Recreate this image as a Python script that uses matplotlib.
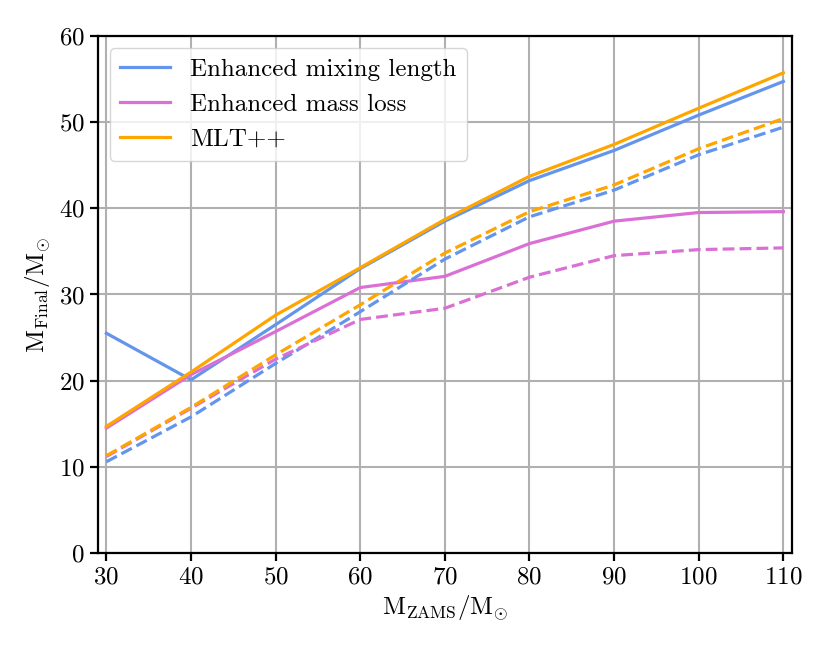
import matplotlib
matplotlib.use('Agg')
import matplotlib.pyplot as plt

plt.rcParams['font.family'] = 'serif'
plt.rcParams['font.serif'] = ['cmr10']
plt.rcParams['mathtext.fontset'] = 'cm'
plt.rcParams['axes.formatter.use_mathtext'] = True

# initial masses (M_sun)
m_zams = [30, 40, 50, 60, 70, 80, 90, 100, 110]

# solid lines
mix_solid = [25.5, 20.1, 26.5, 33.0, 38.5, 43.2, 46.7, 50.8, 54.7]
loss_solid = [14.5, 20.7, 25.7, 30.8, 32.1, 35.9, 38.5, 39.5, 39.6]
mlt_solid = [14.7, 21.0, 27.6, 33.1, 38.7, 43.7, 47.4, 51.6, 55.7]

# dashed lines
mix_dash = [10.6, 15.8, 22.0, 28.0, 34.1, 39.0, 42.1, 46.2, 49.4]
loss_dash = [11.2, 16.8, 22.5, 27.1, 28.4, 32.0, 34.5, 35.2, 35.4]
mlt_dash = [11.3, 16.9, 23.0, 28.8, 34.8, 39.6, 42.7, 46.9, 50.4]

C_MIX = 'cornflowerblue'
C_LOSS = 'orchid'
C_MLT = 'orange'
LW = 2.3

fig = plt.figure(figsize=(8.3, 6.5), dpi=100)
ax = fig.add_axes([0.118, 0.149, 0.836, 0.796])

ax.plot(m_zams, mix_solid, color=C_MIX, lw=LW, label='Enhanced mixing length')
ax.plot(m_zams, loss_solid, color=C_LOSS, lw=LW, label='Enhanced mass loss')
ax.plot(m_zams, mlt_solid, color=C_MLT, lw=LW, label='MLT++')
ax.plot(m_zams, mix_dash, color=C_MIX, lw=LW, ls='--')
ax.plot(m_zams, loss_dash, color=C_LOSS, lw=LW, ls='--')
ax.plot(m_zams, mlt_dash, color=C_MLT, lw=LW, ls='--')

ax.set_xlim(29, 111)
ax.set_ylim(0, 60)
ax.set_xticks(range(30, 111, 10))
ax.set_yticks(range(0, 61, 10))
ax.grid(True, color='#b0b0b0', lw=1.5)
ax.set_axisbelow(True)
for sp in ax.spines.values():
    sp.set_linewidth(1.6)
ax.tick_params(labelsize=18, width=1.6, length=6)

ax.set_xlabel(r'$\mathrm{M_{ZAMS}/M_{\odot}}$', fontsize=18)
ax.set_ylabel(r'$\mathrm{M_{Final}/M_{\odot}}$', fontsize=18)
ax.legend(loc='upper left', fontsize=18)

fig.savefig('out.png', dpi=100)
